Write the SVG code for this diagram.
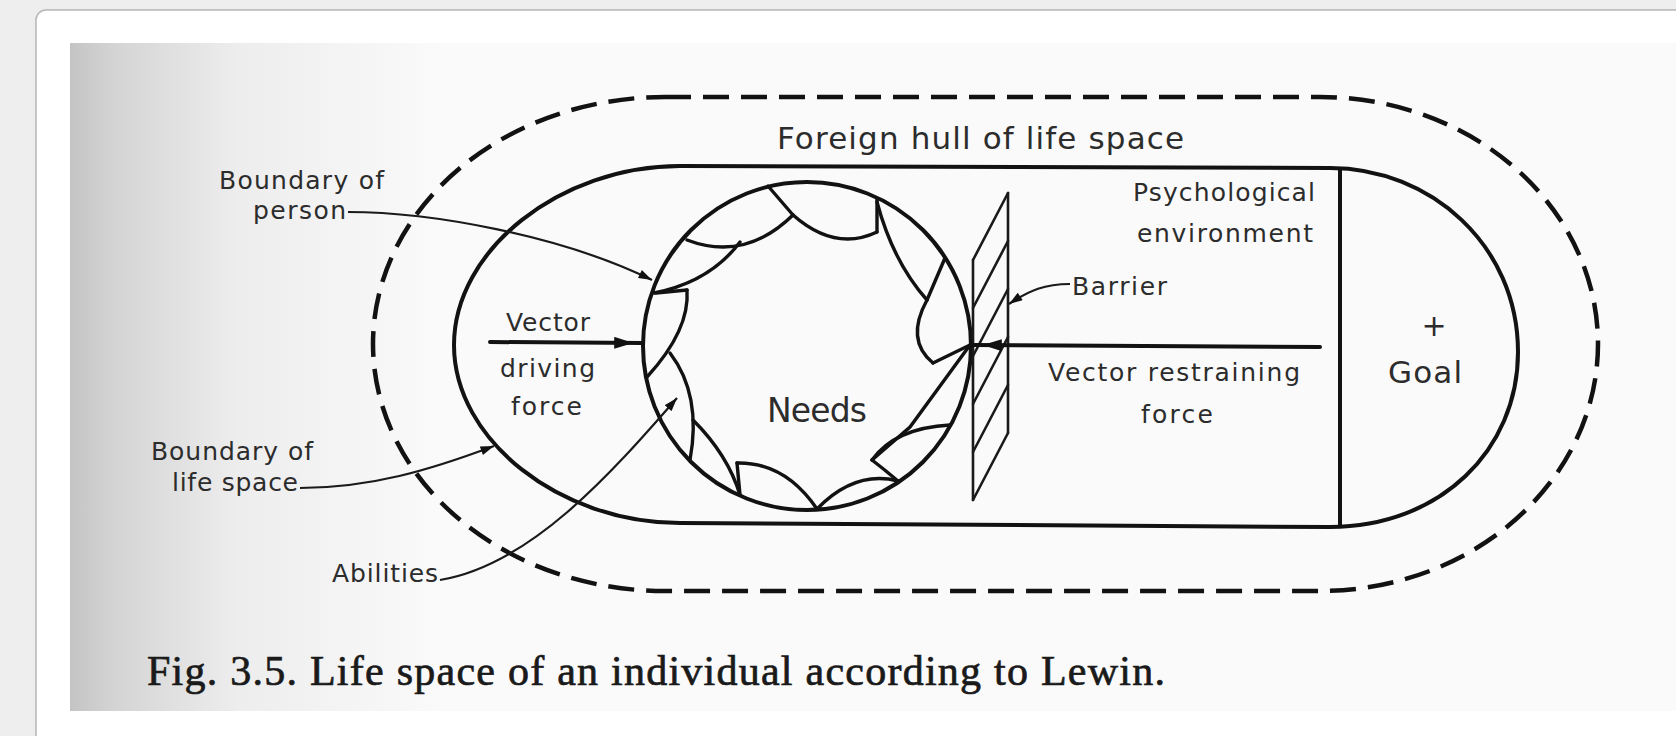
<svg xmlns="http://www.w3.org/2000/svg" width="1676" height="736" viewBox="0 0 1676 736">
  <defs>
    <linearGradient id="scanShade" x1="70" y1="0" x2="440" y2="0" gradientUnits="userSpaceOnUse">
      <stop offset="0" stop-color="#c4c4c4"/>
      <stop offset="0.12" stop-color="#d4d4d4"/>
      <stop offset="0.45" stop-color="#ededed"/>
      <stop offset="1" stop-color="#fafafa"/>
    </linearGradient>
    <marker id="ah" viewBox="0 0 12 8" refX="12" refY="4" markerWidth="14" markerHeight="9" markerUnits="userSpaceOnUse" orient="auto">
      <path d="M0,0 L12,4 L0,8 Z" fill="#111"/>
    </marker>
    <marker id="vec" viewBox="0 0 16 10" refX="24" refY="5" markerWidth="20" markerHeight="12" markerUnits="userSpaceOnUse" orient="auto">
      <path d="M0,0 L16,5 L0,10 Z" fill="#111"/>
    </marker>
    <style>
      .line { fill: none; stroke: #121212; stroke-width: 4; stroke-linecap: round; stroke-linejoin: round; }
      .cell { fill: none; stroke: #121212; stroke-width: 3.4; stroke-linecap: round; }
      .dash { fill: none; stroke: #121212; stroke-width: 4.5; stroke-dasharray: 26 12; }
      .thin { fill: none; stroke: #1a1a1a; stroke-width: 2.2; }
      .hatch { fill: none; stroke: #1a1a1a; stroke-width: 2.6; stroke-linecap: round; }
      .lbl { font-family: "DejaVu Sans", "Liberation Sans", sans-serif; font-size: 25px; fill: #2c2c2c; }
      .big { font-family: "DejaVu Sans", "Liberation Sans", sans-serif; font-size: 31px; fill: #2c2c2c; }
      .cap { font-family: "Liberation Serif", "Times New Roman", serif; font-size: 42px; fill: #1a1a1a; stroke: #1a1a1a; stroke-width: 0.7; }
    </style>
  </defs>

  <!-- page / card / scan background -->
  <g id="background">
    <rect x="0" y="0" width="1676" height="736" fill="#eeeeee"/>
    <rect x="37" y="11" width="1660" height="760" rx="10" ry="10" fill="none" stroke="#d6d6d6" stroke-width="4"/>
    <rect x="36" y="10" width="1660" height="760" rx="10" ry="10" fill="#ffffff" stroke="#b9b9b9" stroke-width="1.5"/>
    <rect x="70" y="43" width="1606" height="668" fill="#fafafa"/>
    <rect x="70" y="43" width="370" height="668" fill="url(#scanShade)"/>
  </g>

  <!-- foreign hull (dashed) -->
  <g id="foreign-hull">
    <path class="dash" d="M 665,97 L 1320,97 A 278,247 0 0 1 1320,591 L 665,591 A 292,247 0 0 1 665,97 Z"/>
  </g>

  <!-- life space boundary -->
  <g id="life-space">
    <path class="line" d="M 1330,168 L 680,166 C 560,166 454,250 454,345 C 454,440 560,523 680,523 L 1330,527 C 1440,527 1518,450 1518,352 C 1518,245 1430,168 1330,168 Z"/>
  </g>

  <!-- goal region divider -->
  <g id="goal-region">
    <line class="line" x1="1340" y1="170" x2="1340" y2="525"/>
  </g>

  <!-- person -->
  <g id="person">
    <circle class="line" cx="807" cy="346" r="164"/>
    <g id="abilities-cells">
      <path class="cell" d="M 687,240 Q 745,262 793,215"/>
      <path class="cell" d="M 768,186 L 793,215"/>
      <path class="cell" d="M 793,215 Q 835,252 877,232"/>
      <path class="cell" d="M 877,199 L 877,232"/>
      <path class="cell" d="M 877,202 Q 893,262 927,300"/>
      <path class="cell" d="M 945,258 L 927,300"/>
      <path class="cell" d="M 927,300 Q 905,340 933,363"/>
      <path class="cell" d="M 933,363 L 970,345"/>
      <path class="cell" d="M 970,345 L 910,427 L 872,460"/>
      <path class="cell" d="M 872,460 Q 895,428 950,425"/>
      <path class="cell" d="M 872,460 Q 885,470 898,481"/>
      <path class="cell" d="M 817,509 Q 855,470 898,481"/>
      <path class="cell" d="M 737,463 Q 785,462 817,509"/>
      <path class="cell" d="M 737,463 L 740,495"/>
      <path class="cell" d="M 693,420 Q 728,455 740,495"/>
      <path class="cell" d="M 670,353 Q 702,395 690,460"/>
      <path class="cell" d="M 740,242 Q 710,282 654,293"/>
      <path class="cell" d="M 656,293 L 687,290"/>
      <path class="cell" d="M 687,290 Q 690,330 647,377"/>
    </g>
  </g>

  <!-- barrier -->
  <g id="barrier">
    <line class="hatch" x1="1008" y1="193" x2="1008" y2="433"/>
    <line class="hatch" x1="973" y1="260" x2="973" y2="500"/>
    <line class="hatch" x1="973" y1="260" x2="1008" y2="193"/>
    <line class="hatch" x1="973" y1="308" x2="1008" y2="241"/>
    <line class="hatch" x1="973" y1="356" x2="1008" y2="289"/>
    <line class="hatch" x1="973" y1="404" x2="1008" y2="337"/>
    <line class="hatch" x1="973" y1="452" x2="1008" y2="385"/>
    <line class="hatch" x1="973" y1="500" x2="1008" y2="433"/>
  </g>

  <!-- connectors -->
  <g id="connectors">
    <line class="line" x1="490" y1="342" x2="643" y2="343" marker-end="url(#vec)"/>
    <line class="line" x1="1320" y1="347" x2="973" y2="345" marker-end="url(#vec)"/>
    <path class="thin" d="M 348,212 C 430,212 560,235 652,280" marker-end="url(#ah)"/>
    <path class="thin" d="M 300,488 C 370,488 430,470 494,446" marker-end="url(#ah)"/>
    <path class="thin" d="M 440,580 C 530,565 610,475 677,398" marker-end="url(#ah)"/>
    <path class="thin" d="M 1070,284 C 1045,284 1030,290 1009,304" marker-end="url(#ah)"/>
  </g>

  <!-- labels -->
  <g id="labels">
    <text class="big" x="777" y="149" textLength="407" lengthAdjust="spacing">Foreign hull of life space</text>
    <text class="lbl" x="219" y="189" textLength="165" lengthAdjust="spacing">Boundary of</text>
    <text class="lbl" x="253" y="219" textLength="93" lengthAdjust="spacing">person</text>
    <text class="lbl" x="151" y="460" textLength="162" lengthAdjust="spacing">Boundary of</text>
    <text class="lbl" x="172" y="491" textLength="126" lengthAdjust="spacing">life space</text>
    <text class="lbl" x="332" y="582" textLength="106" lengthAdjust="spacing">Abilities</text>
    <text class="lbl" x="506" y="331" textLength="84" lengthAdjust="spacing">Vector</text>
    <text class="lbl" x="500" y="377" textLength="95" lengthAdjust="spacing">driving</text>
    <text class="lbl" x="511" y="415" textLength="71" lengthAdjust="spacing">force</text>
    <text class="big" x="767" y="422" textLength="100" lengthAdjust="spacing" style="font-size:33px">Needs</text>
    <text class="lbl" x="1133" y="201" textLength="182" lengthAdjust="spacing">Psychological</text>
    <text class="lbl" x="1137" y="242" textLength="176" lengthAdjust="spacing">environment</text>
    <text class="lbl" x="1072" y="295" textLength="95" lengthAdjust="spacing">Barrier</text>
    <text class="lbl" x="1048" y="381" textLength="252" lengthAdjust="spacing">Vector restraining</text>
    <text class="lbl" x="1141" y="423" textLength="72" lengthAdjust="spacing">force</text>
    <text class="big" x="1434" y="336" text-anchor="middle" style="font-size:30px">+</text>
    <text class="big" x="1388" y="383" textLength="74" lengthAdjust="spacing" style="font-size:31px">Goal</text>
    <text class="cap" x="147" y="685" textLength="1018" lengthAdjust="spacing">Fig. 3.5. Life space of an individual according to Lewin.</text>
  </g>
</svg>
